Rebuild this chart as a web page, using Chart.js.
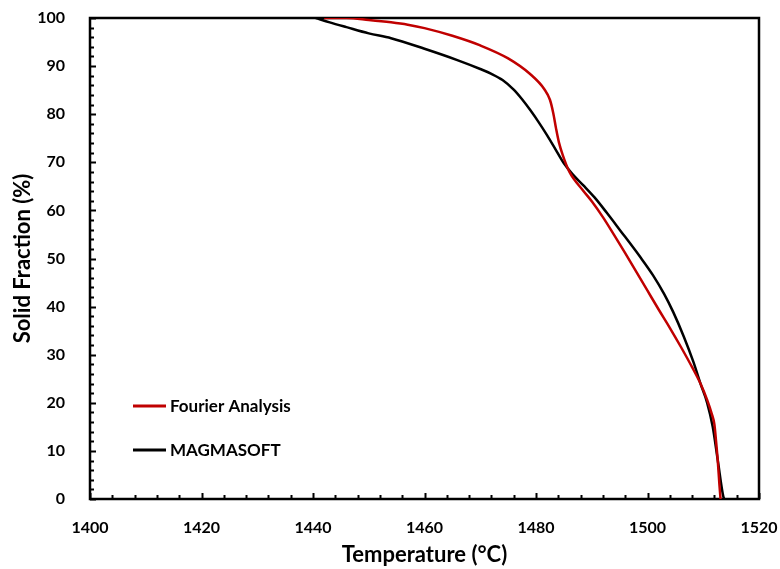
<!DOCTYPE html>
<html>
<head>
<meta charset="utf-8">
<script src="https://cdn.jsdelivr.net/npm/chart.js@4.4.1/dist/chart.umd.min.js"></script>
<style>
  html, body { margin: 0; padding: 0; background: #fff; }
  #wrap { width: 780px; height: 569px; }
</style>
</head>
<body>
<div id="wrap"><canvas id="c" width="780" height="569"></canvas></div>
<script>
// Solidification curves: temperature (°C) vs solid fraction (%)
const fourierTemp = [1442, 1446, 1450, 1454, 1457, 1460, 1465, 1470, 1475, 1479, 1481.5, 1482.5, 1483.1, 1483.6, 1484.1, 1484.8, 1486, 1488.4, 1490, 1492, 1494, 1496, 1498, 1500, 1502, 1504, 1506, 1508, 1509.5, 1510.7, 1511.5, 1512, 1512.3, 1512.6, 1512.9, 1513.1];
const fourierSolid = [100, 100, 99.6, 99.1, 98.6, 97.9, 96.3, 94.3, 91.6, 88.3, 85.2, 83, 80.2, 77, 74.2, 71.5, 68, 64.2, 61.9, 58.6, 54.9, 51.1, 47.2, 43.3, 39.4, 35.6, 31.6, 27.4, 24, 20.6, 17.8, 15.5, 12, 8, 3, 0];

const magmaTemp = [1440.5, 1443, 1446, 1450, 1454, 1460, 1466, 1470, 1472, 1474, 1476, 1477.5, 1479, 1480.5, 1482, 1483.5, 1485, 1486.5, 1488.5, 1490.5, 1492.7, 1495, 1498.7, 1501, 1503, 1504.6, 1506.5, 1508.2, 1509.5, 1510.7, 1511.7, 1512.6, 1513.6, 1513.8];
const magmaSolid = [100, 99.1, 98.1, 96.8, 95.8, 93.6, 91.2, 89.4, 88.4, 87.1, 85.1, 83.1, 80.8, 78.3, 75.6, 72.7, 69.8, 67.6, 65.2, 62.7, 59.5, 56, 50.3, 46.5, 42.6, 38.9, 33.8, 28.6, 24, 20, 15, 8.1, 0.5, 0];

const seriesNames = ['Fourier Analysis', 'MAGMASOFT'];
const seriesColors = ['#c00000', '#000000'];

const xRange = [1400, 1520];
const yRange = [0, 100];

const toPoints = (xs, ys) => xs.map((x, i) => ({ x, y: ys[i] }));

Chart.defaults.font.family = 'Lato, "Open Sans", sans-serif';
Chart.defaults.color = '#000';

// Box frame, inward tick marks and the in-plot legend
const framePlugin = {
  id: 'frame',
  beforeDatasetsDraw(chart) {
    const { ctx, chartArea: a, scales: { x, y } } = chart;
    ctx.save();
    ctx.strokeStyle = '#000';
    ctx.lineWidth = 2;
    ctx.beginPath();
    for (let v = xRange[0]; v <= xRange[1]; v += 4) {
      const px = Math.round(x.getPixelForValue(v)) + 0.5;
      const len = (v % 20 === 0) ? 6 : 4;
      ctx.moveTo(px, a.bottom);
      ctx.lineTo(px, a.bottom - len);
    }
    for (let v = yRange[0]; v <= yRange[1]; v += 2) {
      const py = Math.round(y.getPixelForValue(v)) + 0.5;
      const len = (v % 10 === 0) ? 6 : 4;
      ctx.moveTo(a.left, py);
      ctx.lineTo(a.left + len, py);
    }
    ctx.stroke();
    ctx.lineWidth = 2.5;
    ctx.strokeRect(a.left, a.top, a.right - a.left, a.bottom - a.top);
    ctx.restore();
  },
  afterDraw(chart) {
    const { ctx, chartArea: a } = chart;
    ctx.save();
    ctx.font = 'bold 17px Lato, "Open Sans", sans-serif';
    ctx.textBaseline = 'middle';
    ctx.textAlign = 'left';
    chart.data.datasets.forEach((ds, i) => {
      const ly = a.top + 388 + i * 44;
      const lx = a.left + 43;
      ctx.strokeStyle = ds.borderColor;
      ctx.lineWidth = 3;
      ctx.beginPath();
      ctx.moveTo(lx, ly);
      ctx.lineTo(lx + 33, ly);
      ctx.stroke();
      ctx.fillStyle = '#000';
      ctx.fillText(ds.label, lx + 37, ly + 1);
    });
    ctx.restore();
  }
};

new Chart(document.getElementById('c'), {
  type: 'scatter',
  data: {
    datasets: [
      {
        label: seriesNames[0],
        data: toPoints(fourierTemp, fourierSolid),
        borderColor: seriesColors[0],
        backgroundColor: seriesColors[0],
        showLine: true,
        borderWidth: 2.5,
        pointRadius: 0,
        cubicInterpolationMode: 'monotone'
      },
      {
        label: seriesNames[1],
        data: toPoints(magmaTemp, magmaSolid),
        borderColor: seriesColors[1],
        backgroundColor: seriesColors[1],
        showLine: true,
        borderWidth: 2.5,
        pointRadius: 0,
        cubicInterpolationMode: 'monotone'
      }
    ]
  },
  options: {
    responsive: false,
    animation: false,
    devicePixelRatio: 1,
    layout: { padding: { top: 18, right: 21, left: 0, bottom: 0 } },
    plugins: {
      legend: { display: false },
      tooltip: { enabled: false }
    },
    scales: {
      x: {
        type: 'linear',
        min: xRange[0],
        max: xRange[1],
        grid: { display: false },
        border: { display: false },
        ticks: { stepSize: 20, padding: 11, font: { size: 16, weight: 'bold' }, color: '#000', callback: v => String(v) },
        title: {
          display: true,
          text: 'Temperature (°C)',
          font: { size: 22, weight: 'bold' },
          color: '#000',
          padding: { top: 0, bottom: 1 }
        },
        afterFit(s) { s.height = 70; s.paddingLeft = 0; s.paddingRight = 0; }
      },
      y: {
        type: 'linear',
        min: yRange[0],
        max: yRange[1],
        grid: { display: false },
        border: { display: false },
        ticks: { stepSize: 10, padding: 17, font: { size: 16, weight: 'bold' }, color: '#000', callback: v => String(v) },
        title: {
          display: true,
          text: 'Solid Fraction (%)',
          font: { size: 22, weight: 'bold' },
          color: '#000',
          padding: { top: 10, bottom: 0 }
        },
        afterFit(s) { s.width = 90; s.paddingTop = 0; s.paddingBottom = 0; }
      }
    }
  },
  plugins: [framePlugin]
});
</script>
</body>
</html>
